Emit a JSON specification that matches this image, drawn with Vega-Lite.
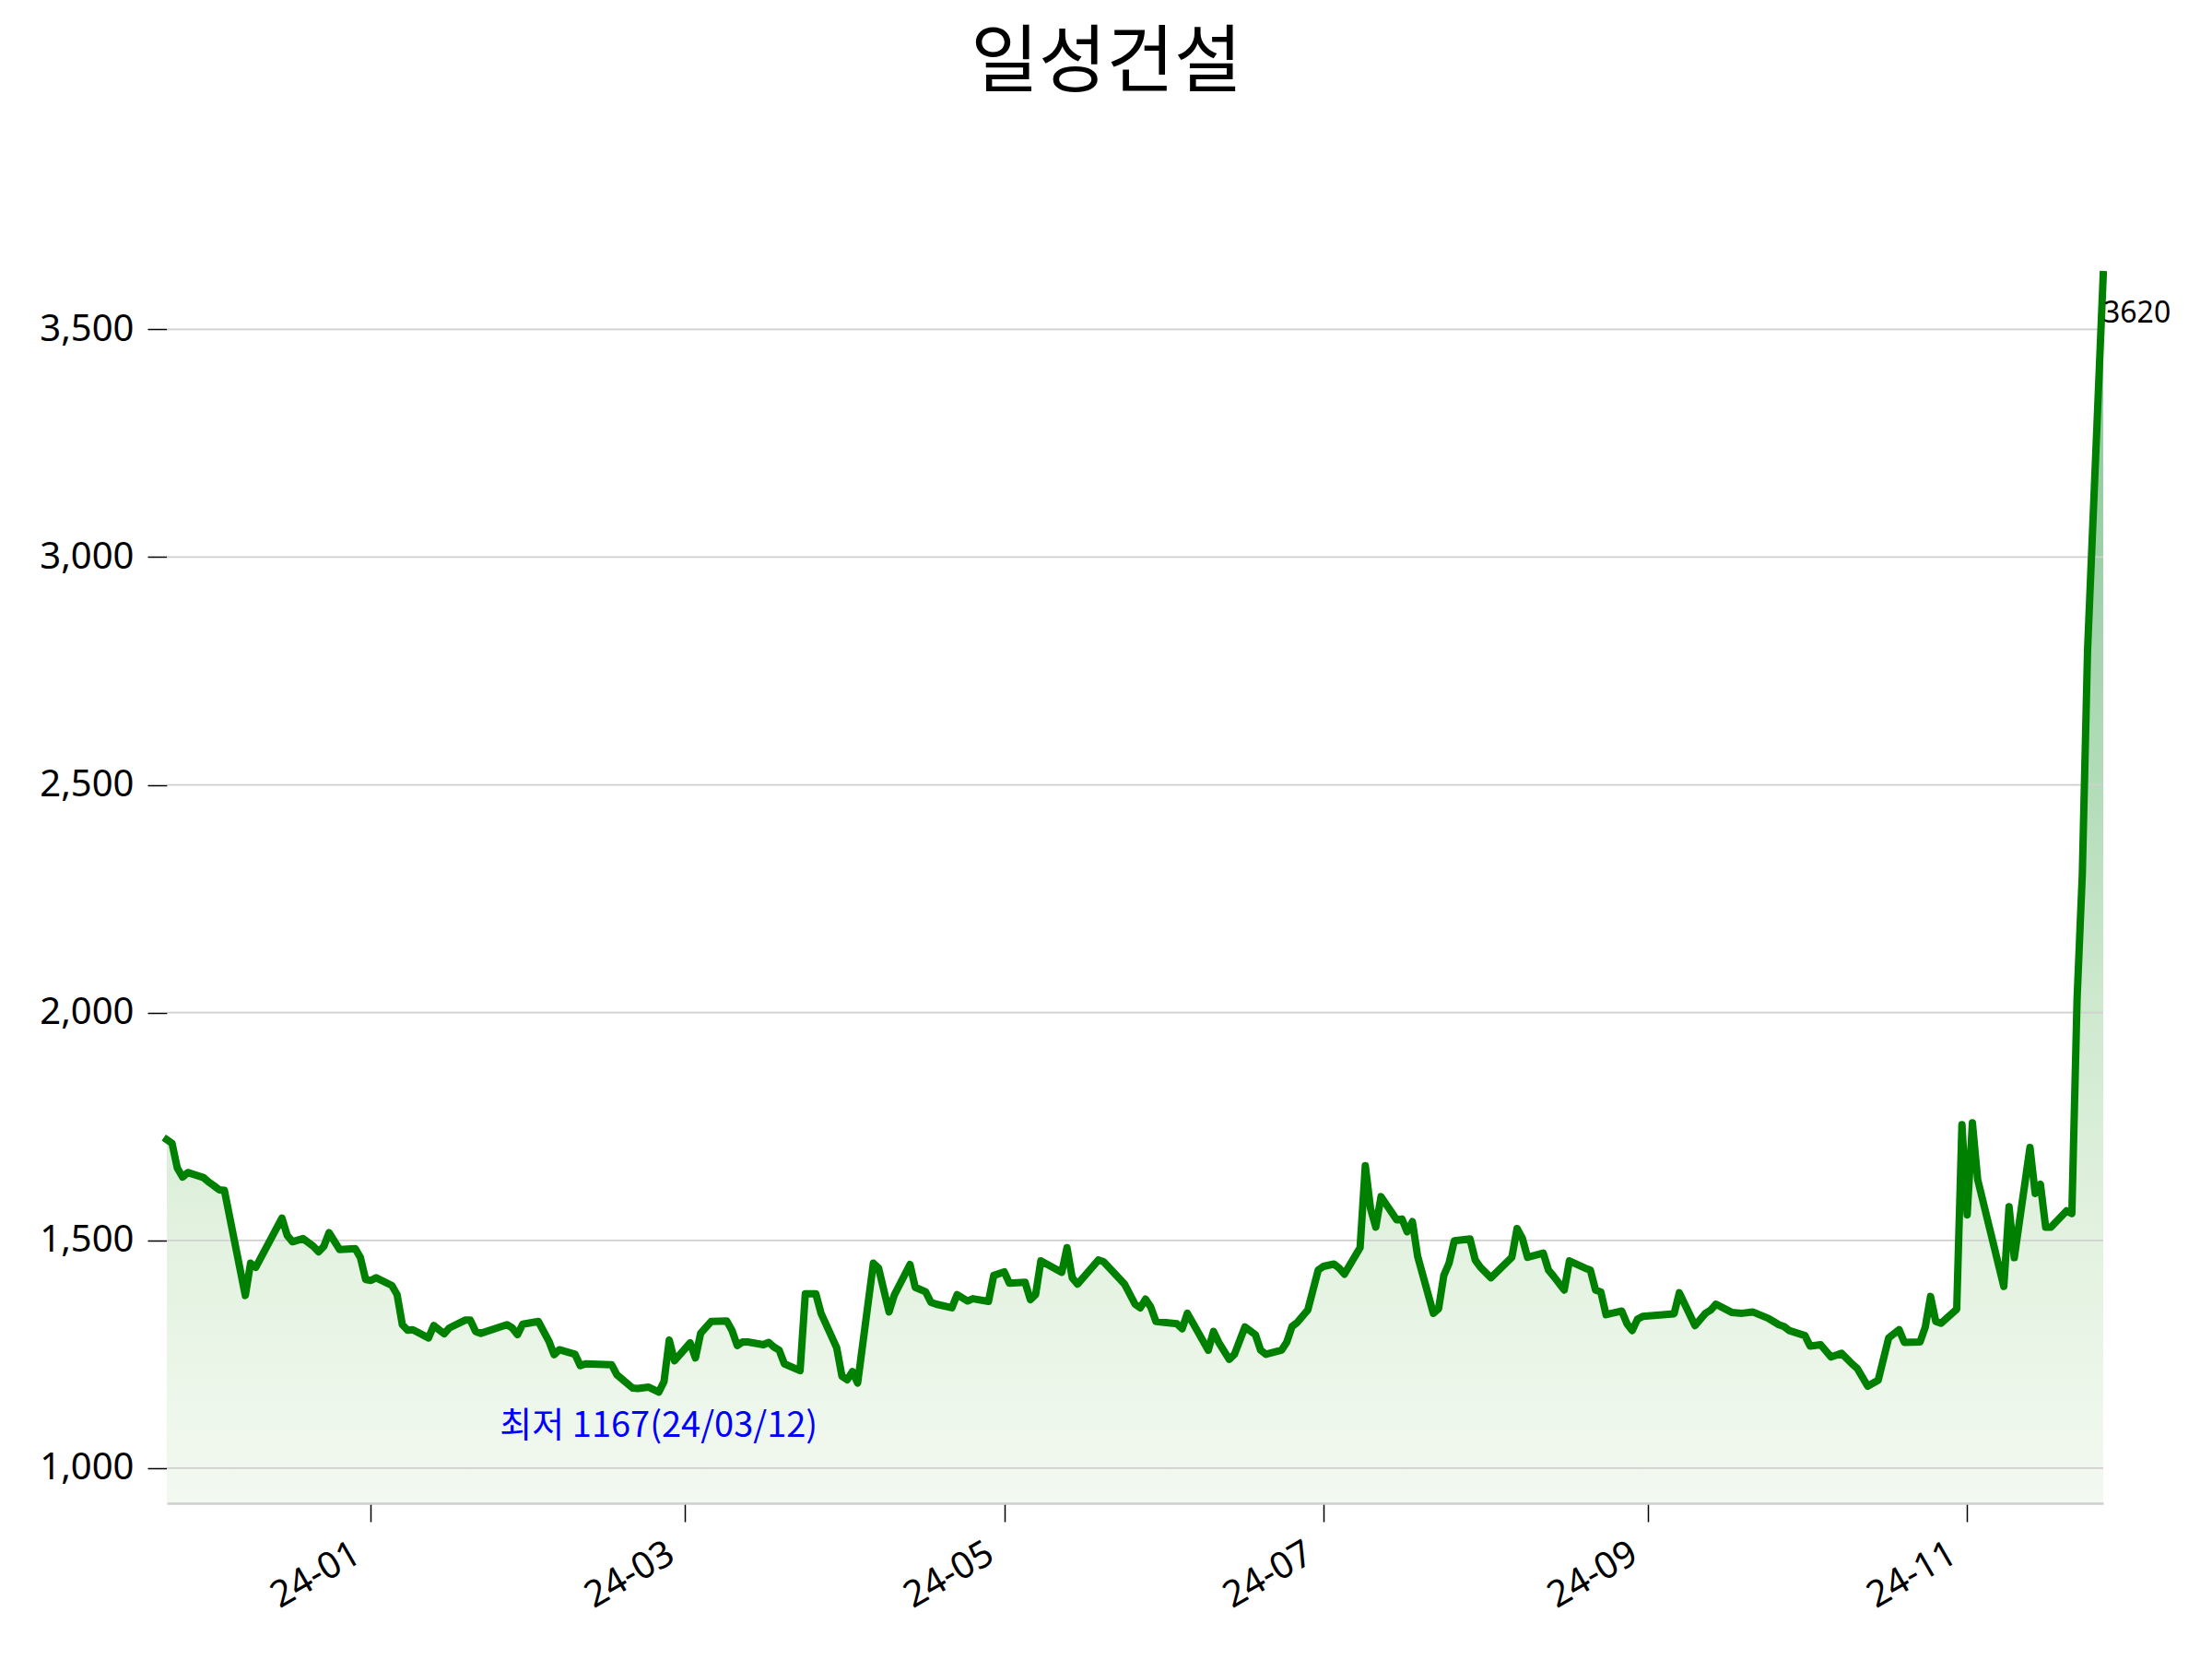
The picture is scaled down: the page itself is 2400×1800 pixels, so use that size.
{
  "$schema": "https://vega.github.io/schema/vega-lite/v6.json",
  "width": 2101,
  "height": 1333,
  "autosize": {"type": "none"},
  "padding": {"left": 181, "top": 298, "right": 118, "bottom": 169},
  "background": "white",
  "title": {
    "text": "일성건설",
    "font": "Noto Sans CJK KR",
    "fontSize": 80,
    "fontWeight": "normal",
    "color": "#000000",
    "anchor": "middle",
    "frame": "group",
    "dx": -31,
    "offset": 182
  },
  "datasets": {
    "price": [
      {"date": "2023-11-23", "price": 1721}, {"date": "2023-11-24", "price": 1713}, {"date": "2023-11-25", "price": 1659},
      {"date": "2023-11-26", "price": 1639}, {"date": "2023-11-27", "price": 1649}, {"date": "2023-11-30", "price": 1638},
      {"date": "2023-12-01", "price": 1628}, {"date": "2023-12-02", "price": 1620}, {"date": "2023-12-03", "price": 1611},
      {"date": "2023-12-04", "price": 1610}, {"date": "2023-12-08", "price": 1379}, {"date": "2023-12-09", "price": 1450},
      {"date": "2023-12-10", "price": 1441}, {"date": "2023-12-15", "price": 1549}, {"date": "2023-12-16", "price": 1511},
      {"date": "2023-12-17", "price": 1497}, {"date": "2023-12-19", "price": 1504}, {"date": "2023-12-21", "price": 1487},
      {"date": "2023-12-22", "price": 1475}, {"date": "2023-12-23", "price": 1487}, {"date": "2023-12-24", "price": 1517},
      {"date": "2023-12-26", "price": 1480}, {"date": "2023-12-29", "price": 1482}, {"date": "2023-12-30", "price": 1462},
      {"date": "2023-12-31", "price": 1414}, {"date": "2024-01-01", "price": 1412}, {"date": "2024-01-02", "price": 1418},
      {"date": "2024-01-05", "price": 1401}, {"date": "2024-01-06", "price": 1381}, {"date": "2024-01-07", "price": 1315},
      {"date": "2024-01-08", "price": 1303}, {"date": "2024-01-09", "price": 1304}, {"date": "2024-01-12", "price": 1286},
      {"date": "2024-01-13", "price": 1313}, {"date": "2024-01-15", "price": 1295}, {"date": "2024-01-16", "price": 1308},
      {"date": "2024-01-19", "price": 1325}, {"date": "2024-01-20", "price": 1325}, {"date": "2024-01-21", "price": 1300},
      {"date": "2024-01-22", "price": 1296}, {"date": "2024-01-27", "price": 1315}, {"date": "2024-01-28", "price": 1308},
      {"date": "2024-01-29", "price": 1293}, {"date": "2024-01-30", "price": 1316}, {"date": "2024-01-31", "price": 1318},
      {"date": "2024-02-02", "price": 1322}, {"date": "2024-02-04", "price": 1279}, {"date": "2024-02-05", "price": 1249},
      {"date": "2024-02-06", "price": 1260}, {"date": "2024-02-09", "price": 1250}, {"date": "2024-02-10", "price": 1225},
      {"date": "2024-02-11", "price": 1229}, {"date": "2024-02-16", "price": 1227}, {"date": "2024-02-17", "price": 1205},
      {"date": "2024-02-20", "price": 1176}, {"date": "2024-02-21", "price": 1175}, {"date": "2024-02-23", "price": 1178},
      {"date": "2024-02-25", "price": 1167}, {"date": "2024-02-26", "price": 1190}, {"date": "2024-02-27", "price": 1281},
      {"date": "2024-02-28", "price": 1236}, {"date": "2024-03-02", "price": 1275}, {"date": "2024-03-03", "price": 1242},
      {"date": "2024-03-04", "price": 1296}, {"date": "2024-03-06", "price": 1322}, {"date": "2024-03-09", "price": 1323},
      {"date": "2024-03-10", "price": 1302}, {"date": "2024-03-11", "price": 1269}, {"date": "2024-03-12", "price": 1277},
      {"date": "2024-03-13", "price": 1277}, {"date": "2024-03-16", "price": 1271}, {"date": "2024-03-17", "price": 1276},
      {"date": "2024-03-18", "price": 1266}, {"date": "2024-03-19", "price": 1259}, {"date": "2024-03-20", "price": 1229},
      {"date": "2024-03-23", "price": 1214}, {"date": "2024-03-24", "price": 1383}, {"date": "2024-03-26", "price": 1383},
      {"date": "2024-03-27", "price": 1340}, {"date": "2024-03-30", "price": 1264}, {"date": "2024-03-31", "price": 1202},
      {"date": "2024-04-01", "price": 1194}, {"date": "2024-04-02", "price": 1212}, {"date": "2024-04-03", "price": 1187},
      {"date": "2024-04-06", "price": 1450}, {"date": "2024-04-07", "price": 1439}, {"date": "2024-04-09", "price": 1343},
      {"date": "2024-04-10", "price": 1380}, {"date": "2024-04-13", "price": 1447}, {"date": "2024-04-14", "price": 1397},
      {"date": "2024-04-16", "price": 1387}, {"date": "2024-04-17", "price": 1364}, {"date": "2024-04-18", "price": 1360},
      {"date": "2024-04-21", "price": 1352}, {"date": "2024-04-22", "price": 1381}, {"date": "2024-04-24", "price": 1367},
      {"date": "2024-04-25", "price": 1372}, {"date": "2024-04-28", "price": 1366}, {"date": "2024-04-29", "price": 1423},
      {"date": "2024-05-01", "price": 1431}, {"date": "2024-05-02", "price": 1406}, {"date": "2024-05-05", "price": 1408},
      {"date": "2024-05-06", "price": 1370}, {"date": "2024-05-07", "price": 1381}, {"date": "2024-05-08", "price": 1455},
      {"date": "2024-05-12", "price": 1430}, {"date": "2024-05-13", "price": 1484}, {"date": "2024-05-14", "price": 1418},
      {"date": "2024-05-15", "price": 1404}, {"date": "2024-05-19", "price": 1457}, {"date": "2024-05-20", "price": 1453},
      {"date": "2024-05-24", "price": 1404}, {"date": "2024-05-26", "price": 1360}, {"date": "2024-05-27", "price": 1352},
      {"date": "2024-05-28", "price": 1371}, {"date": "2024-05-29", "price": 1354}, {"date": "2024-05-30", "price": 1322},
      {"date": "2024-06-03", "price": 1317}, {"date": "2024-06-04", "price": 1306}, {"date": "2024-06-05", "price": 1340},
      {"date": "2024-06-09", "price": 1259}, {"date": "2024-06-10", "price": 1300}, {"date": "2024-06-11", "price": 1276},
      {"date": "2024-06-13", "price": 1239}, {"date": "2024-06-14", "price": 1250}, {"date": "2024-06-16", "price": 1310},
      {"date": "2024-06-18", "price": 1293}, {"date": "2024-06-19", "price": 1259}, {"date": "2024-06-20", "price": 1250},
      {"date": "2024-06-23", "price": 1259}, {"date": "2024-06-24", "price": 1277}, {"date": "2024-06-25", "price": 1311},
      {"date": "2024-06-26", "price": 1320}, {"date": "2024-06-28", "price": 1347}, {"date": "2024-06-30", "price": 1435},
      {"date": "2024-07-01", "price": 1443}, {"date": "2024-07-03", "price": 1448}, {"date": "2024-07-04", "price": 1439},
      {"date": "2024-07-05", "price": 1426}, {"date": "2024-07-08", "price": 1484}, {"date": "2024-07-09", "price": 1664},
      {"date": "2024-07-10", "price": 1570}, {"date": "2024-07-11", "price": 1529}, {"date": "2024-07-12", "price": 1596},
      {"date": "2024-07-15", "price": 1545}, {"date": "2024-07-16", "price": 1547}, {"date": "2024-07-17", "price": 1519},
      {"date": "2024-07-18", "price": 1541}, {"date": "2024-07-19", "price": 1465}, {"date": "2024-07-22", "price": 1340},
      {"date": "2024-07-23", "price": 1350}, {"date": "2024-07-24", "price": 1423}, {"date": "2024-07-25", "price": 1450},
      {"date": "2024-07-26", "price": 1499}, {"date": "2024-07-29", "price": 1503}, {"date": "2024-07-30", "price": 1457},
      {"date": "2024-07-31", "price": 1441}, {"date": "2024-08-02", "price": 1418}, {"date": "2024-08-06", "price": 1463},
      {"date": "2024-08-07", "price": 1526}, {"date": "2024-08-08", "price": 1505}, {"date": "2024-08-09", "price": 1463},
      {"date": "2024-08-12", "price": 1472}, {"date": "2024-08-13", "price": 1435}, {"date": "2024-08-14", "price": 1421},
      {"date": "2024-08-16", "price": 1391}, {"date": "2024-08-17", "price": 1455}, {"date": "2024-08-20", "price": 1439},
      {"date": "2024-08-21", "price": 1435}, {"date": "2024-08-22", "price": 1391}, {"date": "2024-08-23", "price": 1387},
      {"date": "2024-08-24", "price": 1337}, {"date": "2024-08-27", "price": 1345}, {"date": "2024-08-28", "price": 1317},
      {"date": "2024-08-29", "price": 1302}, {"date": "2024-08-30", "price": 1327}, {"date": "2024-08-31", "price": 1333},
      {"date": "2024-09-06", "price": 1339}, {"date": "2024-09-07", "price": 1385}, {"date": "2024-09-10", "price": 1313},
      {"date": "2024-09-12", "price": 1340}, {"date": "2024-09-13", "price": 1347}, {"date": "2024-09-14", "price": 1360},
      {"date": "2024-09-17", "price": 1342}, {"date": "2024-09-19", "price": 1340}, {"date": "2024-09-21", "price": 1343},
      {"date": "2024-09-24", "price": 1329}, {"date": "2024-09-26", "price": 1315}, {"date": "2024-09-27", "price": 1311},
      {"date": "2024-09-28", "price": 1302}, {"date": "2024-10-01", "price": 1291}, {"date": "2024-10-02", "price": 1268},
      {"date": "2024-10-04", "price": 1271}, {"date": "2024-10-06", "price": 1244}, {"date": "2024-10-08", "price": 1252},
      {"date": "2024-10-10", "price": 1229}, {"date": "2024-10-11", "price": 1219}, {"date": "2024-10-13", "price": 1180},
      {"date": "2024-10-15", "price": 1193}, {"date": "2024-10-17", "price": 1286}, {"date": "2024-10-19", "price": 1304},
      {"date": "2024-10-20", "price": 1276}, {"date": "2024-10-23", "price": 1277}, {"date": "2024-10-24", "price": 1310},
      {"date": "2024-10-25", "price": 1377}, {"date": "2024-10-26", "price": 1322}, {"date": "2024-10-27", "price": 1318},
      {"date": "2024-10-30", "price": 1349}, {"date": "2024-10-31", "price": 1754}, {"date": "2024-11-01", "price": 1556},
      {"date": "2024-11-02", "price": 1758}, {"date": "2024-11-03", "price": 1634}, {"date": "2024-11-08", "price": 1399},
      {"date": "2024-11-09", "price": 1574}, {"date": "2024-11-10", "price": 1462}, {"date": "2024-11-13", "price": 1704},
      {"date": "2024-11-14", "price": 1603}, {"date": "2024-11-15", "price": 1623}, {"date": "2024-11-16", "price": 1529},
      {"date": "2024-11-17", "price": 1529}, {"date": "2024-11-20", "price": 1565}, {"date": "2024-11-21", "price": 1559},
      {"date": "2024-11-22", "price": 2030}, {"date": "2024-11-23", "price": 2304}, {"date": "2024-11-24", "price": 2795},
      {"date": "2024-11-27", "price": 3620}
    ]
  },
  "layer": [
    {
      "data": {"name": "price"},
      "mark": {
        "type": "area",
        "color": {
          "gradient": "linear",
          "x1": 0, "y1": 1, "x2": 0, "y2": 0,
          "stops": [
            {"offset": 0, "color": "#f3f9f1"},
            {"offset": 0.214, "color": "#e3f2e0"},
            {"offset": 0.399, "color": "#cfe9cf"},
            {"offset": 0.584, "color": "#b3dcb9"},
            {"offset": 0.77, "color": "#9dd0a8"},
            {"offset": 0.936, "color": "#8fc99f"},
            {"offset": 1, "color": "#8ac69c"}
          ]
        }
      },
      "encoding": {
        "x": {
          "field": "date",
          "type": "temporal",
          "scale": {"type": "utc"},
          "axis": {
            "title": null,
            "grid": false,
            "values": [
              {"year": 2024, "month": 1, "date": 1, "utc": true},
              {"year": 2024, "month": 3, "date": 1, "utc": true},
              {"year": 2024, "month": 5, "date": 1, "utc": true},
              {"year": 2024, "month": 7, "date": 1, "utc": true},
              {"year": 2024, "month": 9, "date": 1, "utc": true},
              {"year": 2024, "month": 11, "date": 1, "utc": true}
            ],
            "format": "%y-%m",
            "labelAngle": -30,
            "labelAlign": "right",
            "labelBaseline": "top",
            "labelPadding": 14,
            "labelOffset": -25,
            "labelFont": "Noto Sans",
            "labelFontSize": 40,
            "labelColor": "#000000",
            "labelFlush": false,
            "labelOverlap": false,
            "tickSize": 20,
            "tickColor": "#000000",
            "tickWidth": 1.5,
            "domainColor": "#cfcfcf",
            "domainWidth": 2.5,
            "zindex": 1
          }
        },
        "y": {
          "field": "price",
          "type": "quantitative",
          "scale": {"domain": [923, 3620], "zero": false, "nice": false},
          "axis": {
            "title": null,
            "grid": false,
            "domain": false,
            "values": [1000, 1500, 2000, 2500, 3000, 3500],
            "format": ",d",
            "labelFont": "Noto Sans",
            "labelFontSize": 40,
            "labelColor": "#000000",
            "labelPadding": 15,
            "tickSize": 21,
            "tickColor": "#000000",
            "tickWidth": 1.5
          }
        },
        "y2": {"datum": 923}
      }
    },
    {
      "data": {"values": [{"g": 1000}, {"g": 1500}, {"g": 2000}, {"g": 2500}, {"g": 3000}, {"g": 3500}]},
      "mark": {"type": "rule", "color": "#d0d0d0", "strokeWidth": 1.8},
      "encoding": {
        "y": {"field": "g", "type": "quantitative"}
      }
    },
    {
      "data": {"name": "price"},
      "mark": {"type": "line", "color": "#008000", "strokeWidth": 8, "strokeJoin": "round", "strokeCap": "square"},
      "encoding": {
        "x": {"field": "date", "type": "temporal"},
        "y": {"field": "price", "type": "quantitative"}
      }
    },
    {
      "data": {"values": [{"date": "2024-02-25", "price": 1167, "label": "최저 1167(24/03/12)"}]},
      "mark": {"type": "text", "font": "Noto Sans CJK KR", "fontSize": 38, "color": "#0000ff", "align": "center", "baseline": "middle", "dy": 38},
      "encoding": {
        "x": {"field": "date", "type": "temporal"},
        "y": {"field": "price", "type": "quantitative"},
        "text": {"field": "label"}
      }
    },
    {
      "data": {"values": [{"date": "2024-11-27", "price": 3620, "label": "3620"}]},
      "mark": {"type": "text", "font": "Noto Sans", "fontSize": 32, "color": "#000000", "align": "left", "baseline": "middle", "dx": 0, "dy": 42},
      "encoding": {
        "x": {"field": "date", "type": "temporal"},
        "y": {"field": "price", "type": "quantitative"},
        "text": {"field": "label"}
      }
    }
  ],
  "config": {"view": {"stroke": null}}
}
